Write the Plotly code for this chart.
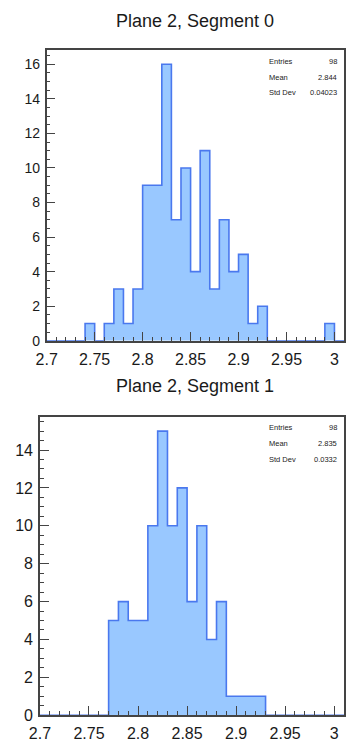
import plotly.graph_objects as go

# Histogram binning: 31 bins of width 0.01 starting at 2.70
bin_lo = [round(2.70 + 0.01 * i, 2) for i in range(31)]
bin_width = 0.01

# Segment 0 counts per bin
counts_seg0 = [0, 0, 0, 0, 1, 0, 1, 3, 1, 3, 9, 9, 16, 7, 10, 4, 11, 3, 7, 4,
               5, 1, 2, 0, 0, 0, 0, 0, 0, 1, 0]
# Segment 1 counts per bin
counts_seg1 = [0, 0, 0, 0, 0, 0, 0, 5, 6, 5, 5, 10, 15, 10, 12, 6, 10, 4, 6, 1,
               1, 1, 1, 0, 0, 0, 0, 0, 0, 0, 0]

titles = ["Plane 2, Segment 0", "Plane 2, Segment 1"]
stats = [("98", "2.844", "0.04023"), ("98", "2.835", "0.0332")]
x_ticks = [2.7, 2.75, 2.8, 2.85, 2.9, 2.95, 3.0]
x_tick_text = ["2.7", "2.75", "2.8", "2.85", "2.9", "2.95", "3"]

FILL = "#99c8ff"
EDGE = "#4a78ee"
FRAME = "#444444"
TEXT = "#1a1a1a"
FONT = "Liberation Sans, Arial, sans-serif"
W, H = 346, 743


def step_xy(lo, counts, width):
    xs = list(lo) + [round(lo[-1] + width, 2)]
    ys = list(counts) + [0]
    return [lo[0]] + xs, [0] + ys


fig = go.Figure()

# panel geometry (pixels): left, right, top, bottom of the plot frame
panels = [
    dict(l=37, r=345, t=51, b=345, ymax=16.8, yfont=14),
    dict(l=30, r=345, t=422, b=724, ymax=15.75, yfont=16),
]

for k, (counts, p) in enumerate(zip([counts_seg0, counts_seg1], panels)):
    xs, ys = step_xy(bin_lo, counts, bin_width)
    ax = "" if k == 0 else str(k + 1)
    fig.add_trace(go.Scatter(
        x=xs, y=ys, mode="lines", line=dict(shape="hv", color=EDGE, width=1.6),
        fill="tozeroy", fillcolor=FILL, xaxis="x" + ax, yaxis="y" + ax,
        showlegend=False, hoverinfo="skip",
    ))
    xdom = [p["l"] / W, p["r"] / W]
    ydom = [1 - p["b"] / H, 1 - p["t"] / H]
    fig.layout["xaxis" + ax] = dict(
        domain=xdom, range=[2.7, 3.01], anchor="y" + ax,
        tickvals=x_ticks, ticktext=x_tick_text, ticks="inside", ticklen=9,
        tickwidth=1, tickcolor=FRAME, showline=True, linecolor=FRAME,
        linewidth=1.8, mirror=True, showgrid=False, zeroline=False,
        tickfont=dict(family=FONT, size=16, color=TEXT),
        minor=dict(dtick=0.01, tick0=2.7, ticks="inside", ticklen=4,
                   tickcolor=FRAME, showgrid=False),
        ticklabelstandoff=3,
    )
    fig.layout["yaxis" + ax] = dict(
        domain=ydom, range=[0, p["ymax"]], anchor="x" + ax,
        dtick=2, tick0=0, ticks="inside", ticklen=9, tickwidth=1,
        tickcolor=FRAME, showline=True, linecolor=FRAME, linewidth=1.5,
        mirror=True, showgrid=False, zeroline=False,
        tickfont=dict(family=FONT, size=p["yfont"], color=TEXT),
        minor=dict(dtick=0.5, ticks="inside", ticklen=4, tickcolor=FRAME,
                   showgrid=False),
        ticklabelstandoff=2,
    )

annotations = []
title_y = [21, 391]
for t, yy in zip(titles, title_y):
    annotations.append(dict(
        text=t, x=191 / W, y=1 - yy / H, xref="paper", yref="paper",
        showarrow=False, xanchor="center", yanchor="middle",
        font=dict(family=FONT, size=18, color=TEXT),
    ))

stat_rows = [[62, 78, 94], [433, 449, 465]]
labels = ["Entries", "Mean", "Std Dev"]
for vals, rows in zip(stats, stat_rows):
    for lab, val, yy in zip(labels, vals, rows):
        annotations.append(dict(
            text=lab, x=265 / W, y=1 - yy / H, xref="paper", yref="paper",
            showarrow=False, xanchor="left", yanchor="middle",
            font=dict(family=FONT, size=7.5, color="#222"),
        ))
        annotations.append(dict(
            text=val, x=340 / W, y=1 - yy / H, xref="paper", yref="paper",
            showarrow=False, xanchor="right", yanchor="middle",
            font=dict(family=FONT, size=7.5, color="#222"),
        ))

fig.update_layout(
    width=W, height=H, margin=dict(l=0, r=0, t=0, b=0),
    paper_bgcolor="white", plot_bgcolor="white",
    annotations=annotations,
)

fig.write_html("out.html")
